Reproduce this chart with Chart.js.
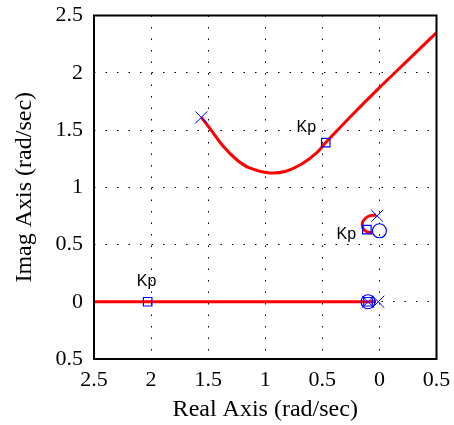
<!DOCTYPE html>
<html>
<head>
<meta charset="utf-8">
<script src="https://cdn.jsdelivr.net/npm/chart.js@4/dist/chart.umd.min.js"></script>
<style>
  body { margin: 0; background: #fff; }
</style>
</head>
<body>
<canvas id="rlocus" width="454" height="425"></canvas>
<script>
// root locus data
var xTickLabels = ['2.5', '2', '1.5', '1', '0.5', '0', '0.5'];
var yTickLabels = ['0.5', '0', '0.5', '1', '1.5', '2', '2.5'];

var poleX = [-1.56, -0.02, -0.01, -0.10];
var poleY = [1.61, 0.75, 0, 0];

var zeroX = [0.0, -0.10];
var zeroY = [0.62, 0];

var kpX = [-2.03, -0.47, -0.11, -0.10];
var kpY = [0, 1.39, 0.63, 0];

var kpLabelX = [-2.04, -0.64, -0.29];
var kpLabelY = [0.18, 1.52, 0.59];
var kpLabelText = ['Kp', 'Kp', 'Kp'];

// upper branch
var branch1X = [-1.56, -1.49, -1.37, -1.25, -1.14, -0.96, -0.82, -0.67, -0.55, -0.47, -0.25, 0, 0.25, 0.5];
var branch1Y = [1.61, 1.52, 1.36, 1.24, 1.17, 1.125, 1.14, 1.21, 1.30, 1.39, 1.62, 1.87, 2.11, 2.35];

// small loop near the imag axis
var branch2X = [-0.03, -0.08, -0.12, -0.148, -0.148, -0.13, -0.10, -0.06];
var branch2Y = [0.755, 0.752, 0.73, 0.695, 0.655, 0.625, 0.607, 0.6];

// real axis branch
var branch3X = [-2.5, -0.03];
var branch3Y = [0, 0];

function pts(xs, ys) {
	var out = [];
	for (var i = 0; i < xs.length; i++) out.push({x: xs[i], y: ys[i]});
	return out;
}

// frame + Kp labels
var extras = {
	id: 'extras',
	afterDatasetsDraw: function(chart) {
		var ctx = chart.ctx;
		var xs = chart.scales.x, ys = chart.scales.y;
		ctx.save();
		ctx.font = '16px "Liberation Sans", Arial, sans-serif';
		ctx.fillStyle = '#000';
		ctx.textAlign = 'center';
		ctx.textBaseline = 'middle';
		for (var i = 0; i < kpLabelText.length; i++) {
			ctx.fillText(kpLabelText[i], xs.getPixelForValue(kpLabelX[i]), ys.getPixelForValue(kpLabelY[i]));
		}
		var a = chart.chartArea;
		ctx.strokeStyle = '#000';
		ctx.lineWidth = 2;
		ctx.strokeRect(a.left, a.top, a.right - a.left, a.bottom - a.top);
		ctx.restore();
	}
};

var serif = '"Liberation Serif", "Times New Roman", serif';

var ctx = document.getElementById('rlocus');
var myChart = new Chart(ctx, {
	type: 'scatter',
	data: {
		datasets: [
			{
				label: 'poles',
				data: pts(poleX, poleY),
				pointStyle: 'crossRot',
				pointRadius: 8.5,
				borderColor: '#0000ff',
				borderWidth: 1,
				showLine: false
			},
			{
				label: 'zeros',
				data: pts(zeroX, zeroY),
				pointStyle: 'circle',
				pointRadius: 7,
				borderColor: '#0000ff',
				backgroundColor: 'rgba(0,0,0,0)',
				borderWidth: 1.2,
				showLine: false
			},
			{
				label: 'Kp',
				data: pts(kpX, kpY),
				pointStyle: 'rect',
				pointRadius: 6,
				borderColor: '#0000ff',
				backgroundColor: 'rgba(0,0,0,0)',
				borderWidth: 1.2,
				showLine: false
			},
			{
				data: pts(branch1X, branch1Y),
				showLine: true,
				pointRadius: 0,
				borderColor: '#ff0000',
				borderWidth: 3,
				tension: 0.4
			},
			{
				data: pts(branch2X, branch2Y),
				showLine: true,
				pointRadius: 0,
				borderColor: '#ff0000',
				borderWidth: 3,
				tension: 0.4
			},
			{
				data: pts(branch3X, branch3Y),
				showLine: true,
				pointRadius: 0,
				borderColor: '#ff0000',
				borderWidth: 3
			}
		]
	},
	options: {
		responsive: false,
		animation: false,
		devicePixelRatio: 1,
		layout: { padding: { top: 15.5, right: 17.5, left: 0, bottom: 0 } },
		plugins: { legend: { display: false }, tooltip: { enabled: false } },
		scales: {
			x: {
				type: 'linear',
				min: -2.5,
				max: 0.5,
				afterFit: function(s) { s.height = 66; s.paddingLeft = 0; s.paddingRight = 0; },
				ticks: {
					stepSize: 0.5,
					padding: 8,
					color: '#000',
					font: { family: serif, size: 22 },
					maxRotation: 0,
					callback: function(v, i) { return xTickLabels[i]; }
				},
				grid: { color: '#000', lineWidth: 1, drawTicks: false },
				border: { display: false, dash: [1.5, 10] },
				title: {
					display: true,
					text: 'Real Axis (rad/sec)',
					color: '#000',
					font: { family: serif, size: 24 },
					padding: { top: 0, bottom: 0.6 }
				}
			},
			y: {
				type: 'linear',
				min: -0.5,
				max: 2.5,
				afterFit: function(s) { s.width = 94; s.paddingTop = 0; s.paddingBottom = 0; },
				ticks: {
					stepSize: 0.5,
					padding: 11,
					color: '#000',
					font: { family: serif, size: 22 },
					callback: function(v, i) { return yTickLabels[i]; }
				},
				grid: { color: '#000', lineWidth: 1, drawTicks: false },
				border: { display: false, dash: [1.5, 10] },
				title: {
					display: true,
					text: 'Imag Axis (rad/sec)',
					color: '#000',
					font: { family: serif, size: 24 },
					padding: { top: 10.6, bottom: 0 }
				}
			}
		}
	},
	plugins: [extras]
});
</script>
</body>
</html>
